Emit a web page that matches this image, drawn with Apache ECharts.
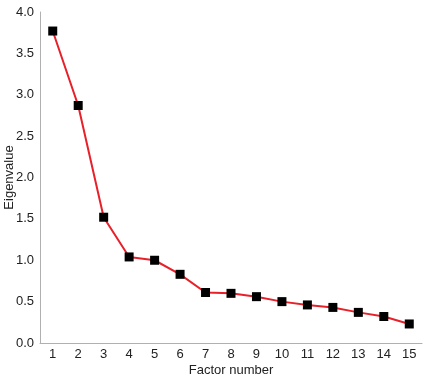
<!DOCTYPE html>
<html><head><meta charset="utf-8">
<script src="https://cdn.jsdelivr.net/npm/echarts@6/dist/echarts.min.js"></script>
<style>html,body{margin:0;padding:0;background:#fff}#c{width:426px;height:381px}</style>
</head><body><div id="c"></div>
<script>
const categories = ['1','2','3','4','5','6','7','8','9','10','11','12','13','14','15'];
const eigenvalues = [3.77, 2.87, 1.52, 1.04, 1.00, 0.83, 0.61, 0.60, 0.56, 0.50, 0.46, 0.43, 0.37, 0.32, 0.23];
const yTicks = [0, 0.5, 1.0, 1.5, 2.0, 2.5, 3.0, 3.5, 4.0];
const FONT = '"Liberation Sans Narrow", "Liberation Sans", Arial, sans-serif';
const chart = echarts.init(document.getElementById('c'), null, {renderer:'canvas'});
chart.setOption({
  animation:false,
  grid:{left:40, right:4, top:12, bottom:38, containLabel:false, outerBoundsMode:'none'},
  xAxis:{
    type:'category', data:categories, boundaryGap:true,
    name:'Factor number', nameLocation:'middle', nameGap:21, nameMoveOverlap:false,
    nameTextStyle:{fontFamily:FONT, fontSize:13, color:'#222'},
    axisLine:{lineStyle:{color:'#b0b0b0', width:1}},
    axisTick:{show:false},
    axisLabel:{fontFamily:FONT, fontSize:13, color:'#222', margin:5}
  },
  yAxis:{
    type:'value', min:0, max:4, interval:0.5,
    name:'Eigenvalue', nameLocation:'middle', nameGap:24, nameMoveOverlap:false,
    nameTextStyle:{fontFamily:FONT, fontSize:13, color:'#222'},
    axisLine:{show:true, lineStyle:{color:'#b0b0b0', width:1}},
    axisTick:{show:false},
    splitLine:{show:false},
    axisLabel:{fontFamily:FONT, fontSize:13, color:'#222', margin:6,
      formatter:v=>v.toFixed(1)}
  },
  series:[{
    type:'line', data:eigenvalues,
    lineStyle:{color:'#e8202a', width:2},
    symbol:'rect', symbolSize:9,
    itemStyle:{color:'#000'}
  }]
});
</script></body></html>
